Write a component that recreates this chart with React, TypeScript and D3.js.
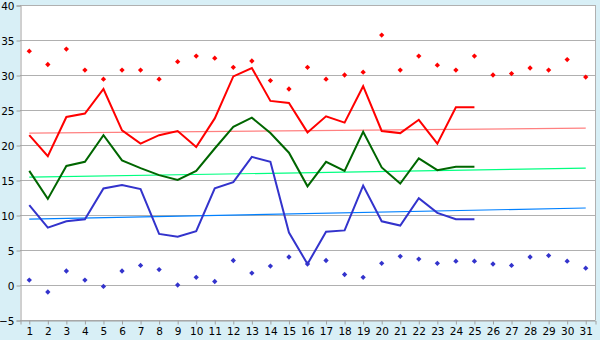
//@ts-nocheck
import React, { useEffect, useRef } from "react";
import * as d3 from "d3";

const days = d3.range(1, 32);
const yTicks = [-5, 0, 5, 10, 15, 20, 25, 30, 35, 40];

// daily values (days 1-25)
const maxAvg = [21.4, 18.4, 24.0, 24.5, 28.0, 22.1, 20.2, 21.4, 22.0, 19.7, 23.8, 29.8, 31.0, 26.3, 26.0, 21.8, 24.1, 23.2, 28.4, 22.0, 21.7, 23.6, 20.2, 25.4, 25.4];
const meanAvg = [16.3, 12.3, 17.0, 17.6, 21.4, 17.8, 16.7, 15.7, 15.0, 16.3, 19.5, 22.6, 23.9, 21.7, 18.9, 14.1, 17.6, 16.3, 21.9, 16.8, 14.5, 18.1, 16.4, 16.9, 16.9];
const minAvg = [11.4, 8.2, 9.1, 9.4, 13.8, 14.3, 13.7, 7.3, 6.9, 7.7, 13.8, 14.7, 18.3, 17.6, 7.5, 3.0, 7.6, 7.8, 14.2, 9.1, 8.5, 12.4, 10.3, 9.4, 9.4];

// record points (days 1-31)
const maxRecord = [33.4, 31.5, 33.7, 30.7, 29.4, 30.7, 30.7, 29.4, 31.9, 32.7, 32.4, 31.1, 32.0, 29.2, 28.0, 31.1, 29.4, 30.0, 30.4, 35.7, 30.7, 32.7, 31.4, 30.7, 32.7, 30.0, 30.2, 31.0, 30.7, 32.2, 29.7];
const minRecord = [0.7, -1.0, 2.0, 0.7, -0.2, 2.0, 2.8, 2.2, 0.0, 1.1, 0.5, 3.5, 1.7, 2.7, 4.0, 3.0, 3.5, 1.5, 1.1, 3.1, 4.1, 3.7, 3.1, 3.4, 3.4, 3.0, 2.8, 4.0, 4.2, 3.4, 2.4];

// trend lines, start and end (day 1 -> day 31)
const maxTrend = [21.7, 22.4];
const meanTrend = [15.4, 16.7];
const minTrend = [9.4, 11.0];

const W = 600;
const H = 340;
const margins = { top: 5, right: 5, bottom: 20, left: 20 };

const Chart = () => {
  const svgRef = useRef(null);

  useEffect(() => {
    const svg = d3.select(svgRef.current);
    svg.selectAll("*").remove();

    const x = d3
      .scaleBand()
      .domain(days)
      .range([margins.left, W - margins.right]);
    const cx = (d) => x(d) + x.bandwidth() / 2;
    const y = d3
      .scaleLinear()
      .domain([-5, 40])
      .range([H - margins.bottom, margins.top]);

    svg.append("rect").attr("width", W).attr("height", H).attr("fill", "#d8eff6");
    svg
      .append("rect")
      .attr("x", margins.left)
      .attr("y", margins.top)
      .attr("width", W - margins.left - margins.right)
      .attr("height", H - margins.top - margins.bottom)
      .attr("fill", "#fff");

    // gridlines
    svg
      .append("g")
      .selectAll("line")
      .data(yTicks)
      .join("line")
      .attr("x1", margins.left)
      .attr("x2", W - margins.right)
      .attr("y1", (d) => Math.round(y(d)) + 0.5)
      .attr("y2", (d) => Math.round(y(d)) + 0.5)
      .attr("stroke", "#b0b0b0");

    // right border
    svg
      .append("line")
      .attr("x1", W - margins.right + 0.5)
      .attr("x2", W - margins.right + 0.5)
      .attr("y1", margins.top)
      .attr("y2", H - margins.bottom)
      .attr("stroke", "#b0b0b0");

    // axes
    const yAxis = svg
      .append("g")
      .attr("transform", `translate(${margins.left + 0.5},0.5)`)
      .call(d3.axisLeft(y).tickValues(yTicks).tickSize(4).tickPadding(2));
    const xAxis = svg
      .append("g")
      .attr("transform", `translate(0.5,${Math.round(y(-5)) + 0.5})`)
      .call(d3.axisBottom(x).tickSize(4).tickPadding(3));
    [yAxis, xAxis].forEach((g) => {
      g.selectAll("path, line").attr("stroke", "#a0a0a0");
      g.selectAll("text")
        .attr("fill", "#000")
        .style("font-family", "'DejaVu Sans', Verdana, sans-serif")
        .style("font-size", "10.5px");
    });
    yAxis.selectAll("text").attr("dy", "0.35em");

    const plot = svg.append("g");

    // trend lines
    [
      [maxTrend, "#ff8080"],
      [meanTrend, "#00ff80"],
      [minTrend, "#0080ff"],
    ].forEach(([t, c]) => {
      plot
        .append("line")
        .attr("x1", cx(days[0]))
        .attr("x2", cx(days[days.length - 1]))
        .attr("y1", y(t[0]))
        .attr("y2", y(t[1]))
        .attr("stroke", c)
        .attr("stroke-width", 1.2);
    });

    const line = d3
      .line()
      .x((d, i) => cx(days[i]))
      .y((d) => y(d));

    [
      [maxAvg, "#ff0000"],
      [meanAvg, "#006600"],
      [minAvg, "#3333cc"],
    ].forEach(([data, c]) => {
      plot
        .append("path")
        .datum(data)
        .attr("fill", "none")
        .attr("stroke", c)
        .attr("stroke-width", 2)
        .attr("d", line);
    });

    // record markers: small squares turned 45 degrees
    const sym = d3.symbol(d3.symbolSquare, 14);
    [
      [maxRecord, "#ff0000"],
      [minRecord, "#3333cc"],
    ].forEach(([data, c]) => {
      plot
        .append("g")
        .selectAll("path")
        .data(data)
        .join("path")
        .attr("d", sym)
        .attr("transform", (d, i) => `translate(${cx(days[i])},${y(d)}) rotate(45)`)
        .attr("fill", c);
    });
  }, []);

  return (
    <svg
      ref={svgRef}
      width={W}
      height={H}
      style={{ position: "absolute", left: 0, top: 0, display: "block" }}
    ></svg>
  );
};

export default function App() {
  return <Chart />;
}
